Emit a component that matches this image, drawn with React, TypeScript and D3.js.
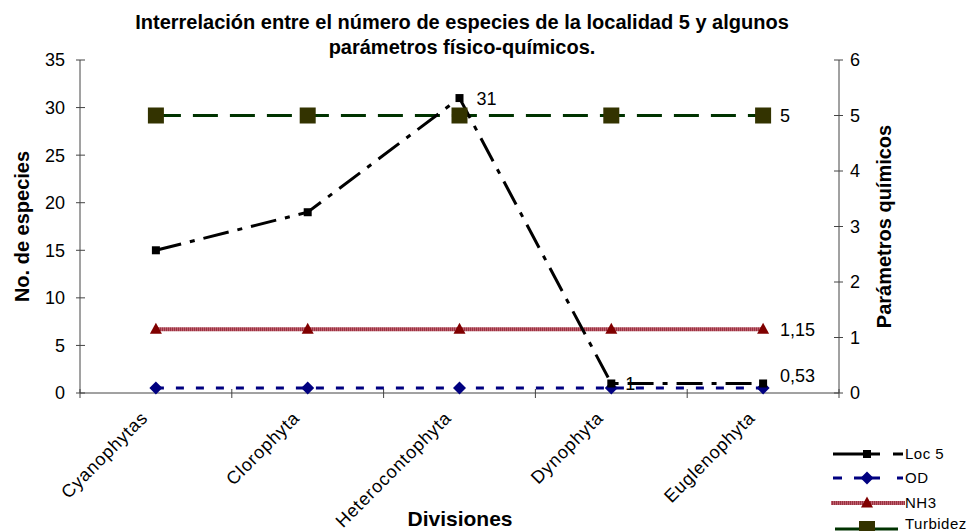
import React, { useEffect, useRef } from 'react';
import * as d3 from 'd3';

const categories = ['Cyanophytas', 'Clorophyta', 'Heterocontophyta', 'Dynophyta', 'Euglenophyta'];
const loc5 = [15, 19, 31, 1, 1];
const od = [0.53, 0.53, 0.53, 0.53, 0.53];
const nh3 = [1.15, 1.15, 1.15, 1.15, 1.15];
const turbidez = [5, 5, 5, 5, 5];
const leftTicks = [0, 5, 10, 15, 20, 25, 30, 35];
const rightTicks = [0, 1, 2, 3, 4, 5, 6];

const FONT = '"Liberation Sans", Arial, sans-serif';

// small marker paths
const diamondPath = (r: number) => `M0,${-r}L${r},0L0,${r}L${-r},0Z`;
const trianglePath = (w: number, h: number) => `M0,${-h / 2}L${w / 2},${h / 2}L${-w / 2},${h / 2}Z`;

export default function App() {
  const svgRef = useRef<SVGSVGElement>(null);

  useEffect(() => {
    if (!svgRef.current) return;
    const svg = d3.select(svgRef.current);
    svg.selectAll('*').remove();

    const left = 80, right = 839, top = 60, bottom = 393;

    const x = d3.scaleBand<string>().domain(categories).range([left, right]);
    const cx = (c: string) => (x(c) as number) + x.bandwidth() / 2;
    const yL = d3.scaleLinear().domain([0, 35]).range([bottom, top]);
    const yR = d3.scaleLinear().domain([0, 6]).range([bottom, top]);

    // striped fill for the NH3 line
    const pat = svg.append('defs').append('pattern').attr('id', 'nh3stripe')
      .attr('patternUnits', 'userSpaceOnUse').attr('width', 2).attr('height', 4);
    pat.append('rect').attr('width', 2).attr('height', 4).attr('fill', '#c06070');
    pat.append('rect').attr('width', 1).attr('height', 4).attr('fill', '#993340');

    const g = svg.append('g').style('font-family', FONT);

    // title
    g.append('text').attr('x', 462).attr('y', 29).attr('text-anchor', 'middle')
      .style('font-size', '20px').style('font-weight', 'bold')
      .text('Interrelación entre el número de especies de la localidad 5 y algunos');
    g.append('text').attr('x', 462).attr('y', 54).attr('text-anchor', 'middle')
      .style('font-size', '20px').style('font-weight', 'bold')
      .text('parámetros físico-químicos.');

    // axes
    const axisColor = '#444';
    g.append('line').attr('x1', left).attr('x2', left).attr('y1', top).attr('y2', bottom).attr('stroke', axisColor);
    g.append('line').attr('x1', right).attr('x2', right).attr('y1', top).attr('y2', bottom).attr('stroke', axisColor);
    g.append('line').attr('x1', left).attr('x2', right).attr('y1', bottom).attr('y2', bottom).attr('stroke', axisColor);

    leftTicks.forEach(t => {
      g.append('line').attr('x1', left - 4).attr('x2', left + 5).attr('y1', yL(t)).attr('y2', yL(t)).attr('stroke', axisColor);
      g.append('text').attr('x', left - 15).attr('y', yL(t)).attr('dy', '0.36em').attr('text-anchor', 'end')
        .style('font-size', '18px').text(t);
    });
    rightTicks.forEach(t => {
      g.append('line').attr('x1', right - 5).attr('x2', right + 4).attr('y1', yR(t)).attr('y2', yR(t)).attr('stroke', axisColor);
      g.append('text').attr('x', right + 11).attr('y', yR(t)).attr('dy', '0.36em').attr('text-anchor', 'start')
        .style('font-size', '18px').text(t);
    });
    // category boundary ticks
    const bounds = categories.map(c => x(c) as number).concat([right]);
    bounds.forEach(b => {
      g.append('line').attr('x1', b).attr('x2', b).attr('y1', bottom - 4).attr('y2', bottom + 5).attr('stroke', axisColor);
    });
    categories.forEach(c => {
      g.append('text')
        .attr('transform', `translate(${cx(c) - 7},${bottom + 26}) rotate(-45)`)
        .attr('text-anchor', 'end')
        .style('font-size', '18px')
        .style('letter-spacing', '0.8px')
        .text(c);
    });

    // axis titles
    g.append('text').attr('transform', `translate(29,${(top + bottom) / 2}) rotate(-90)`)
      .attr('text-anchor', 'middle').style('font-size', '20px').style('font-weight', 'bold')
      .text('No. de especies');
    g.append('text').attr('transform', `translate(891,${(top + bottom) / 2}) rotate(-90)`)
      .attr('text-anchor', 'middle').style('font-size', '20px').style('font-weight', 'bold')
      .text('Parámetros químicos');
    g.append('text').attr('x', 460).attr('y', 526).attr('text-anchor', 'middle')
      .style('font-size', '21px').style('font-weight', 'bold').text('Divisiones');

    const line = (y: d3.ScaleLinear<number, number>) =>
      d3.line<number>().x((_, i) => cx(categories[i])).y(d => y(d));

    // Turbidez
    g.append('path').datum(turbidez).attr('d', line(yR)).attr('fill', 'none')
      .attr('stroke', '#003300').attr('stroke-width', 3).attr('stroke-dasharray', '25,12');
    // NH3
    g.append('path').datum(nh3).attr('d', line(yR)).attr('fill', 'none')
      .attr('stroke', 'url(#nh3stripe)').attr('stroke-width', 4);
    // OD
    g.append('path').datum(od).attr('d', line(yL)).attr('fill', 'none')
      .attr('stroke', '#000080').attr('stroke-width', 3).attr('stroke-dasharray', '8,12');
    // Loc 5
    g.append('path').datum(loc5).attr('d', line(yL)).attr('fill', 'none')
      .attr('stroke', '#000').attr('stroke-width', 3).attr('stroke-dasharray', '26,9,5,9');

    // markers
    nh3.forEach((v, i) => {
      g.append('path').attr('d', trianglePath(12, 11)).attr('fill', '#800000')
        .attr('transform', `translate(${cx(categories[i])},${yR(v) - 1})`);
    });
    od.forEach((v, i) => {
      g.append('path').attr('d', diamondPath(6.5)).attr('fill', '#000080')
        .attr('transform', `translate(${cx(categories[i])},${yL(v)})`);
    });
    turbidez.forEach((v, i) => {
      g.append('rect').attr('x', cx(categories[i]) - 8).attr('y', yR(v) - 8)
        .attr('width', 16).attr('height', 16).attr('fill', '#333300');
    });
    loc5.forEach((v, i) => {
      g.append('rect').attr('x', cx(categories[i]) - 4).attr('y', yL(v) - 4)
        .attr('width', 8).attr('height', 8).attr('fill', '#000');
    });

    // data labels
    const lab = (tx: number, ty: number, t: string) =>
      g.append('text').attr('x', tx).attr('y', ty).attr('dy', '0.36em').style('font-size', '18px').text(t);
    lab(cx(categories[2]) + 17, yL(loc5[2]), '31');
    lab(cx(categories[4]) + 17, yR(turbidez[4]), '5');
    lab(cx(categories[4]) + 17, yR(nh3[4]), '1,15');
    lab(cx(categories[4]) + 17, yL(od[4]) - 12, '0,53');
    lab(cx(categories[3]) + 14, yL(loc5[3]), '1');

    // legend
    const lx0 = 833, lx1 = 903;
    const legend = [
      { name: 'Loc 5', y: 454 },
      { name: 'OD', y: 478 },
      { name: 'NH3', y: 503 },
      { name: 'Turbidez', y: 524 },
    ];
    const mid = 867;
    // Loc 5
    g.append('line').attr('x1', lx0).attr('x2', lx1).attr('y1', legend[0].y).attr('y2', legend[0].y)
      .attr('stroke', '#000').attr('stroke-width', 3).attr('stroke-dasharray', '47,13,10');
    g.append('rect').attr('x', mid - 4).attr('y', legend[0].y - 4).attr('width', 8).attr('height', 8).attr('fill', '#000');
    // OD
    g.append('line').attr('x1', lx0).attr('x2', lx1).attr('y1', legend[1].y).attr('y2', legend[1].y)
      .attr('stroke', '#000080').attr('stroke-width', 3).attr('stroke-dasharray', '9,12,26,17,8');
    g.append('path').attr('d', diamondPath(6.5)).attr('fill', '#000080').attr('transform', `translate(${mid},${legend[1].y})`);
    // NH3
    g.append('line').attr('x1', lx0 - 2).attr('x2', lx1 + 2).attr('y1', legend[2].y).attr('y2', legend[2].y)
      .attr('stroke', 'url(#nh3stripe)').attr('stroke-width', 4);
    g.append('path').attr('d', trianglePath(12, 11)).attr('fill', '#800000').attr('transform', `translate(${mid},${legend[2].y - 1})`);
    // Turbidez
    g.append('line').attr('x1', lx0 + 2).attr('x2', lx1 - 5).attr('y1', legend[3].y + 5).attr('y2', legend[3].y + 5)
      .attr('stroke', '#003300').attr('stroke-width', 3);
    g.append('rect').attr('x', mid - 8).attr('y', legend[3].y - 3).attr('width', 16).attr('height', 16).attr('fill', '#333300');
    legend.forEach(l => {
      g.append('text').attr('x', lx1 + 2).attr('y', l.y).attr('dy', '0.36em')
        .style('font-size', '15px').style('letter-spacing', '0.5px').text(l.name);
    });
  }, []);

  return (
    <svg ref={svgRef} width={971} height={531}
      style={{ position: 'absolute', left: 0, top: 0, background: '#fff' }} />
  );
}
